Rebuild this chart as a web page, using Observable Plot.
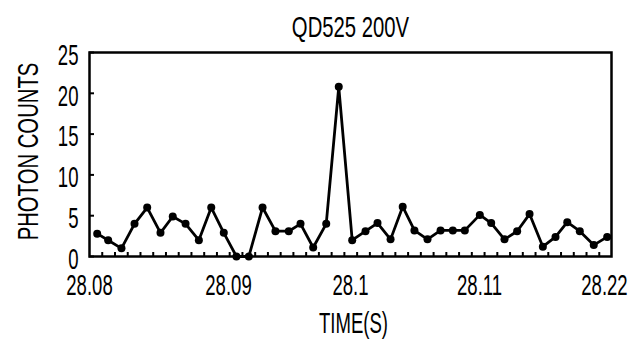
<!DOCTYPE html>
<html><head><meta charset="utf-8">
<script src="https://cdn.jsdelivr.net/npm/d3@7"></script>
<script src="https://cdn.jsdelivr.net/npm/@observablehq/plot@0.6"></script>
<style>html,body{margin:0;padding:0;background:#fff}</style>
</head><body><div id="chart"></div>
<script>
const title = "QD525 200V";
const xLabel = "TIME(S)";
const yLabel = "PHOTON COUNTS";
const times = [28.08059, 28.08143, 28.08245, 28.08345, 28.08442, 28.08544, 28.08638, 28.08736, 28.08838, 28.08933,
  28.09029, 28.09126, 28.09221, 28.09326, 28.09425, 28.09527, 28.09617, 28.09714, 28.09814, 28.09910,
  28.10013, 28.10115, 28.10207, 28.10307, 28.10400, 28.10490, 28.10590, 28.10690, 28.10784, 28.10876,
  28.10991, 28.11078, 28.11180, 28.11277, 28.11372, 28.11474, 28.11571, 28.11661, 28.11757, 28.11864, 28.11967];
const counts = [2.8, 2.0, 1.0, 4.0, 6.0, 2.9, 4.9, 4.0, 2.0, 6.0,
  2.9, 0, 0, 6.0, 3.1, 3.1, 4.0, 1.1, 4.0, 20.8,
  2.0, 3.1, 4.1, 2.1, 6.1, 3.2, 2.1, 3.2, 3.2, 3.2,
  5.1, 4.1, 2.1, 3.1, 5.2, 1.2, 2.4, 4.2, 3.1, 1.4, 2.4];
const xTickAt = [28.08, 28.09065, 28.1, 28.10989, 28.11946];
const xTickLabels = ["28.08", "28.09", "28.1", "28.11", "28.22"];
const yTicks = [0, 5, 10, 15, 20, 25];
const xDomain = [28.08, 28.12];
const yDomain = [0, 25];
const binWidth = 1 / 1024;

const data = times.map((t, i) => ({t, c: counts[i]}));
const minorTicks = d3.range(1, 41).map(k => xDomain[0] + k * binWidth);
const font = "'Liberation Sans', Arial, Helvetica, sans-serif";

const chart = Plot.plot({
  width: 631, height: 341,
  marginLeft: 89, marginRight: 20, marginTop: 52, marginBottom: 85,
  style: {fontFamily: font, background: "white", color: "black", overflow: "visible"},
  x: {domain: xDomain, axis: null},
  y: {domain: yDomain, axis: null},
  marks: [
    Plot.ruleX(minorTicks, {x: d => d, y1: 0, y2: 0, insetTop: -4, stroke: "black", strokeWidth: 2}),
    Plot.ruleY(yTicks, {y: d => d, x1: xDomain[0], x2: xDomain[0], insetRight: -5, stroke: "black", strokeWidth: 2}),
    Plot.line(data, {x: "t", y: "c", stroke: "black", strokeWidth: 2.8}),
    Plot.dot(data, {x: "t", y: "c", r: 4, fill: "black"}),
    Plot.frame({stroke: "black", strokeWidth: 2.5}),
    Plot.text(xTickAt, {x: d => d, text: (d, i) => xTickLabels[i], frameAnchor: "bottom", lineAnchor: "bottom", dy: 38, fontSize: 29, fill: "black"}),
    Plot.text(yTicks, {y: d => d, text: d => String(d), frameAnchor: "left", textAnchor: "end", lineAnchor: "middle", dx: -11, dy: 3, fontSize: 29, fill: "black"}),
    Plot.text([title], {text: d => d, frameAnchor: "top", lineAnchor: "bottom", dy: -16, fontSize: 29, fill: "black"}),
    Plot.text([xLabel], {text: d => d, frameAnchor: "bottom", lineAnchor: "bottom", dx: 3, dy: 76, fontSize: 29, fill: "black"}),
    Plot.text([yLabel], {text: d => d, frameAnchor: "left", rotate: -90, textAnchor: "middle", lineAnchor: "bottom", dx: -52, dy: -3, fontSize: 29, fill: "black"})
  ]
});

// condense glyphs horizontally to match the narrow typeface of the reference
chart.querySelectorAll("text").forEach(t => {
  const content = t.textContent;
  const s = (content === title || content === yLabel) ? 0.70 : 0.64;
  const tr = t.getAttribute("transform") || "";
  t.setAttribute("transform", `${tr} scale(${s},1)`.trim());
});

document.getElementById("chart").appendChild(chart);
</script>
</body></html>
